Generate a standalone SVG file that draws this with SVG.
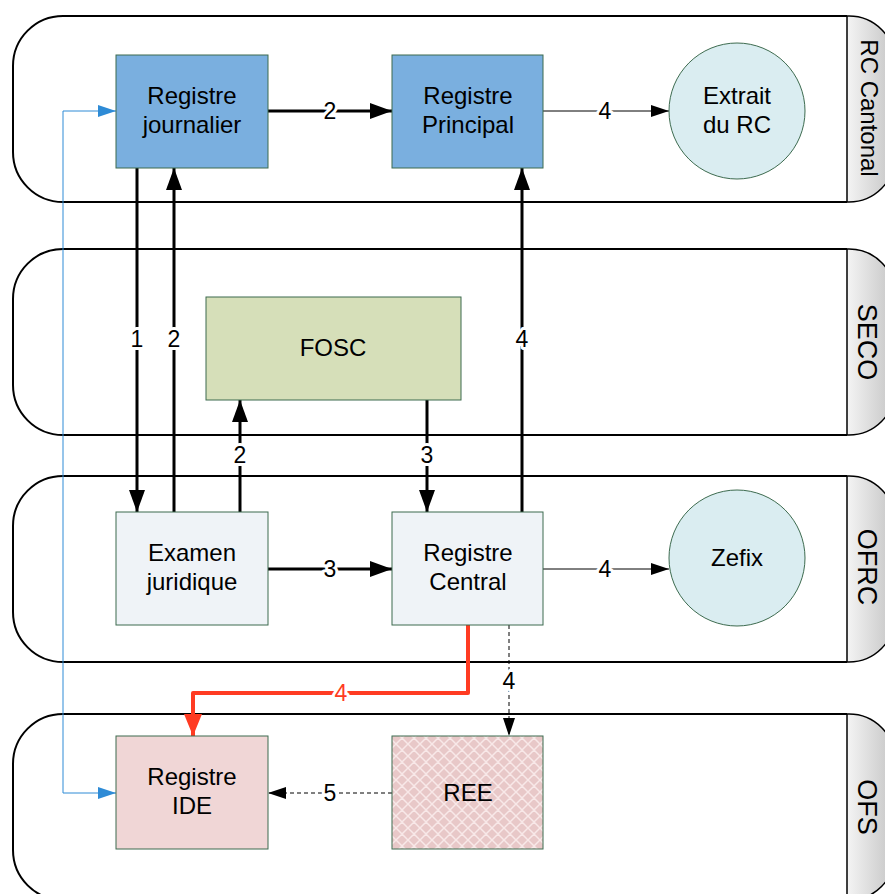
<svg xmlns="http://www.w3.org/2000/svg" width="885" height="894" viewBox="0 0 885 894">
<style>
.lane{fill:#fff;stroke:#000;stroke-width:2}
.hdr{fill:url(#hg);stroke:#000;stroke-width:1.5}
.hl{font-family:"Liberation Sans",Arial,sans-serif;font-size:27px;fill:#000;text-anchor:middle}
.nt{font-family:"Liberation Sans",Arial,sans-serif;font-size:24px;fill:#000;text-anchor:middle}
.nb{stroke:#3d6b4f;stroke-width:1}
.lb{font-family:"Liberation Sans",Arial,sans-serif;font-size:23px;fill:#000;text-anchor:middle;stroke:#fff;stroke-width:6px;paint-order:stroke;stroke-linejoin:round}
.thick{fill:none;stroke:#000;stroke-width:3}
.thin{fill:none;stroke:#000;stroke-width:1}
.dash{fill:none;stroke:#000;stroke-width:1;stroke-dasharray:4 3}
</style>
<defs>
<linearGradient id="hg" x1="0" y1="0" x2="1" y2="0">
<stop offset="0" stop-color="#f4f4f4"/>
<stop offset="1" stop-color="#c4c4c4"/>
</linearGradient>
<pattern id="hatch" width="12" height="12" patternUnits="userSpaceOnUse">
<rect width="12" height="12" fill="#e8c8c8"/>
<path d="M0 0L12 12M12 0L0 12M-6 6L6 18M6 -6L18 6M-6 6L6 -6M6 18L18 6" stroke="#f8e8e8" stroke-width="1.5"/>
</pattern>
<marker id="ak" markerUnits="userSpaceOnUse" viewBox="0 0 22 16" refX="22" refY="8" markerWidth="22" markerHeight="16" orient="auto"><path d="M0 0L22 8L0 16z" fill="#000"/></marker>
<marker id="at" markerUnits="userSpaceOnUse" viewBox="0 0 18 12" refX="18" refY="6" markerWidth="18" markerHeight="12" orient="auto"><path d="M0 0L18 6L0 12z" fill="#000"/></marker>
<marker id="ab" markerUnits="userSpaceOnUse" viewBox="0 0 18 12" refX="18" refY="6" markerWidth="18" markerHeight="12" orient="auto-start-reverse"><path d="M0 0L18 6L0 12z" fill="#2e8bd6"/></marker>
<marker id="ar" markerUnits="userSpaceOnUse" viewBox="0 0 22 18" refX="22" refY="9" markerWidth="22" markerHeight="18" orient="auto"><path d="M0 0L22 9L0 18z" fill="#ff3b22"/></marker>
</defs>

<g id="lanes">
<g id="lane-rc">
<path class="lane" d="M847 16H63A50 50 0 0 0 13 66V152A50 50 0 0 0 63 202H847"/>
<path class="hdr" d="M847 16H849A46 46 0 0 1 895 62V156A46 46 0 0 1 849 202H847Z"/>
<text class="hl" style="font-size:24px" transform="translate(861 108) rotate(90)">RC Cantonal</text>
</g>
<g id="lane-seco">
<path class="lane" d="M847 249H63A50 50 0 0 0 13 299V385A50 50 0 0 0 63 435H847"/>
<path class="hdr" d="M847 249H849A46 46 0 0 1 895 295V389A46 46 0 0 1 849 435H847Z"/>
<text class="hl" transform="translate(858 342) rotate(90)">SECO</text>
</g>
<g id="lane-ofrc">
<path class="lane" d="M847 476H63A50 50 0 0 0 13 526V612A50 50 0 0 0 63 662H847"/>
<path class="hdr" d="M847 476H849A46 46 0 0 1 895 522V616A46 46 0 0 1 849 662H847Z"/>
<text class="hl" transform="translate(858 567) rotate(90)">OFRC</text>
</g>
<g id="lane-ofs">
<path class="lane" d="M847 714H63A50 50 0 0 0 13 764V850A50 50 0 0 0 63 900H847"/>
<path class="hdr" d="M847 714H849A46 46 0 0 1 895 760V854A46 46 0 0 1 849 900H847Z"/>
<text class="hl" transform="translate(858 807) rotate(90)">OFS</text>
</g>
</g>

<g id="connectors">
<path class="thick" d="M268 111H392" marker-end="url(#ak)"/>
<text class="lb" x="330" y="119">2</text>
<path class="thin" d="M543 111H669" marker-end="url(#at)"/>
<text class="lb" x="605" y="119">4</text>
<path class="thick" d="M137 168V512" marker-end="url(#ak)"/>
<text class="lb" x="137" y="347">1</text>
<path class="thick" d="M174 512V168" marker-end="url(#ak)"/>
<text class="lb" x="174" y="347">2</text>
<path class="thick" d="M240 512V400" marker-end="url(#ak)"/>
<text class="lb" x="240" y="463">2</text>
<path class="thick" d="M427 400V512" marker-end="url(#ak)"/>
<text class="lb" x="427" y="463">3</text>
<path class="thick" d="M522 512V168" marker-end="url(#ak)"/>
<text class="lb" x="522" y="347">4</text>
<path class="thick" d="M268 569H392" marker-end="url(#ak)"/>
<text class="lb" x="330" y="577">3</text>
<path class="thin" d="M543 569H669" marker-end="url(#at)"/>
<text class="lb" x="605" y="577">4</text>
<path d="M468 625V693H193V736" fill="none" stroke="#ff3b22" stroke-width="4" stroke-linejoin="round" marker-end="url(#ar)"/>
<text class="lb" x="341" y="701" style="fill:#ff3b22">4</text>
<path class="dash" d="M509 625V736" marker-end="url(#at)"/>
<text class="lb" x="509" y="689">4</text>
<path class="dash" d="M392 793H268" marker-end="url(#at)"/>
<text class="lb" x="330" y="801">5</text>
<path d="M116 111H63V793H116" fill="none" stroke="#2e8bd6" stroke-width="1" marker-start="url(#ab)" marker-end="url(#ab)"/>
</g>

<g id="registre-journalier">
<rect class="nb" x="116" y="55" width="152" height="113" fill="#7aafdf"/>
<text class="nt" x="192" y="104">Registre</text>
<text class="nt" x="192" y="133">journalier</text>
</g>
<g id="registre-principal">
<rect class="nb" x="392" y="55" width="151" height="113" fill="#7aafdf"/>
<text class="nt" x="468" y="104">Registre</text>
<text class="nt" x="468" y="133">Principal</text>
</g>
<g id="extrait-rc">
<circle class="nb" cx="737" cy="111" r="68" fill="#daedf1"/>
<text class="nt" x="737" y="104">Extrait</text>
<text class="nt" x="737" y="133">du RC</text>
</g>
<g id="fosc">
<rect class="nb" x="206" y="297" width="255" height="103" fill="#d6dfb9"/>
<text class="nt" x="333" y="356">FOSC</text>
</g>
<g id="examen-juridique">
<rect class="nb" x="116" y="512" width="152" height="113" fill="#eff3f7"/>
<text class="nt" x="192" y="561">Examen</text>
<text class="nt" x="192" y="590">juridique</text>
</g>
<g id="registre-central">
<rect class="nb" x="392" y="512" width="151" height="113" fill="#eff3f7"/>
<text class="nt" x="468" y="561">Registre</text>
<text class="nt" x="468" y="590">Central</text>
</g>
<g id="zefix">
<circle class="nb" cx="737" cy="558" r="68" fill="#daedf1"/>
<text class="nt" x="737" y="566">Zefix</text>
</g>
<g id="registre-ide">
<rect class="nb" x="116" y="736" width="152" height="113" fill="#f0d6d6"/>
<text class="nt" x="192" y="785">Registre</text>
<text class="nt" x="192" y="814">IDE</text>
</g>
<g id="ree">
<rect class="nb" x="392" y="736" width="151" height="113" fill="url(#hatch)"/>
<text class="nt" x="468" y="801">REE</text>
</g>
</svg>
